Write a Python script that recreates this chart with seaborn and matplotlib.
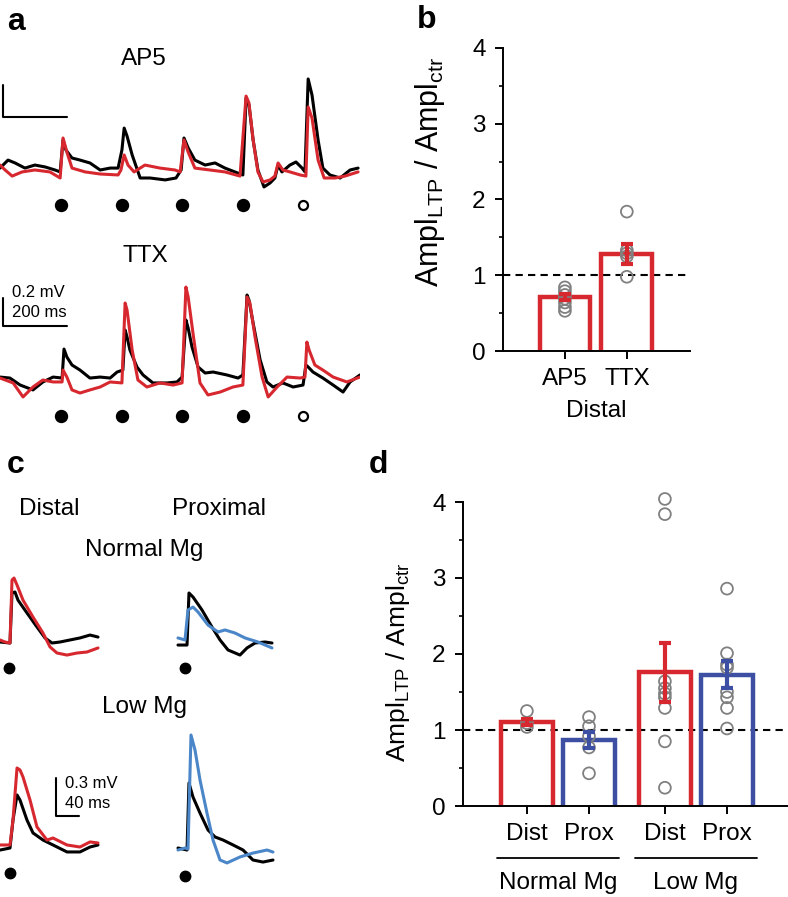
import matplotlib
matplotlib.use("Agg")
import matplotlib.pyplot as plt
import matplotlib.transforms as mtransforms
from matplotlib.ticker import MultipleLocator
import pandas as pd
import seaborn as sns

# -----------------------------
# Data
# -----------------------------
# panel a: traces as (time ms, voltage mV) vertices, baseline = 0
ap5_black = [(0, 0.012), (25, 0.062), (47, 0.044), (78, 0.012), (109, 0.031), (141, 0.019), (172, 0.0),
             (188, -0.012), (197, 0.188), (206, 0.125), (225, 0.075), (250, 0.062), (281, 0.044), (313, 0.0),
             (344, 0.012), (369, 0.012), (381, 0.125), (388, 0.262), (397, 0.212), (413, 0.094), (438, -0.05),
             (469, -0.05), (516, -0.062), (550, -0.05), (566, 0.0), (575, 0.2), (588, 0.138), (609, 0.062),
             (641, 0.031), (672, 0.044), (703, 0.012), (734, -0.012), (759, -0.031), (769, 0.45), (778, 0.406),
             (791, 0.188), (806, 0.0), (825, -0.106), (844, -0.081), (859, -0.05), (869, 0.031), (881, -0.012),
             (906, 0.031), (925, 0.05), (944, 0.012), (953, -0.012), (963, 0.569), (975, 0.469), (994, 0.188),
             (1009, 0.012), (1031, -0.031), (1063, -0.05), (1094, 0.0), (1119, 0.012)]
ap5_red = [(0, 0.031), (16, 0.0), (38, -0.038), (69, -0.012), (109, 0.0), (156, -0.012), (188, -0.05),
           (197, 0.2), (209, 0.112), (225, 0.012), (266, -0.012), (313, -0.025), (369, -0.031), (378, 0.0),
           (388, 0.094), (400, 0.031), (419, -0.012), (453, 0.031), (500, 0.012), (547, 0.0), (563, -0.012),
           (575, 0.188), (588, 0.112), (609, 0.012), (656, 0.0), (703, -0.012), (750, -0.038), (769, 0.462),
           (778, 0.419), (791, 0.188), (806, -0.012), (822, -0.075), (844, -0.062), (859, -0.038), (869, 0.044),
           (884, 0.0), (906, -0.012), (938, -0.031), (956, -0.038), (963, 0.394), (975, 0.325), (994, 0.062),
           (1013, -0.05), (1047, -0.05), (1078, -0.038), (1119, -0.012)]
ttx_black = [(0, 0.021), (31, 0.014), (63, -0.036), (103, -0.071), (134, -0.014), (166, 0.021), (194, 0.014),
             (200, 0.221), (209, 0.164), (225, 0.107), (250, 0.071), (281, 0.014), (313, 0.021), (344, 0.014),
             (366, 0.057), (384, 0.071), (391, 0.357), (397, 0.307), (406, 0.214), (428, 0.093), (447, 0.036),
             (478, -0.021), (522, -0.021), (553, -0.014), (569, 0.021), (581, 0.429), (588, 0.371), (600, 0.236),
             (619, 0.093), (641, 0.05), (666, 0.057), (709, 0.036), (744, 0.014), (759, 0.036), (772, 0.607),
             (778, 0.571), (791, 0.407), (813, 0.143), (834, -0.014), (853, -0.05), (884, -0.021), (916, -0.05),
             (947, -0.036), (956, 0.107), (963, 0.093), (978, 0.057), (1009, 0.014), (1041, -0.036),
             (1072, -0.086), (1094, -0.014), (1125, 0.036)]
ttx_red = [(0, 0.014), (41, -0.021), (72, -0.121), (103, -0.05), (134, 0.0), (166, -0.014), (194, -0.014),
           (197, 0.071), (209, 0.021), (225, -0.071), (250, -0.093), (281, -0.071), (313, -0.05), (344, -0.014),
           (381, -0.021), (391, 0.55), (397, 0.5), (413, 0.214), (431, 0.0), (459, -0.05), (500, -0.021),
           (541, -0.036), (569, -0.021), (581, 0.664), (588, 0.593), (603, 0.336), (625, -0.021), (650, -0.107),
           (688, -0.086), (728, -0.05), (759, -0.036), (772, 0.593), (781, 0.55), (797, 0.307), (819, 0.021),
           (838, -0.121), (866, -0.05), (897, 0.021), (938, 0.014), (953, 0.021), (959, 0.271), (966, 0.214),
           (984, 0.107), (1009, 0.071), (1041, 0.021), (1084, -0.014), (1125, 0.021)]
stim_times = [190, 381, 569, 759, 947]
stim_filled = [True, True, True, True, False]

# panel b
b_conditions = ["AP5", "TTX"]
b_means = [0.71, 1.28]
b_sem = [0.04, 0.13]
ap5_points = [0.84, 0.79, 0.74, 0.69, 0.64, 0.58, 0.53]
ttx_points = [1.84, 1.33, 1.29, 1.25, 0.98]

# panel c: single EPSPs, time relative to stimulus (ms), voltage relative to baseline (mV)
c_dist_normal_black = [(-20.9, 0.0), (-3.5, -0.008), (0, 0.387), (5.2, 0.395), (10.4, 0.331), (26.1, 0.229),
                       (43.5, 0.118), (57.4, 0.032), (69.6, -0.008), (83.5, 0.0), (100.9, 0.016),
                       (118.3, 0.032), (135.7, 0.055), (149.6, 0.039)]
c_dist_normal_red = [(-20.9, 0.016), (-12.2, 0.0), (-3.5, -0.008), (0, 0.489), (3.5, 0.505), (8.7, 0.45),
                     (19.1, 0.331), (36.5, 0.197), (53.9, 0.071), (66.1, -0.039), (78.3, -0.087),
                     (95.7, -0.103), (113.0, -0.087), (130.4, -0.079), (149.6, -0.047)]
c_prox_normal_black = [(-17.4, -0.024), (-1.7, -0.024), (1.7, 0.387), (8.7, 0.355), (24.3, 0.253),
                       (41.7, 0.118), (55.7, 0.016), (69.6, -0.063), (90.4, -0.103), (102.6, -0.047),
                       (116.5, -0.008), (133.9, 0.0), (146.1, -0.008)]
c_prox_normal_blue = [(-17.4, 0.032), (-5.2, 0.016), (0, 0.253), (8.7, 0.276), (17.4, 0.237), (34.8, 0.134),
                      (52.2, 0.079), (64.3, 0.095), (81.7, 0.071), (99.1, 0.032), (121.7, 0.0),
                      (146.1, -0.047)]
c_dist_low_black = [(-22.6, -0.032), (-5.2, -0.016), (0, 0.205), (7.0, 0.403), (12.2, 0.363), (24.3, 0.205),
                    (34.8, 0.103), (52.2, 0.047), (69.6, 0.008), (93.9, -0.047), (116.5, -0.047),
                    (133.9, -0.008), (147.8, 0.008)]
c_dist_low_red = [(-22.6, 0.008), (-5.2, 0.008), (0, 0.205), (7.0, 0.616), (12.2, 0.6), (17.4, 0.545),
                  (29.6, 0.363), (41.7, 0.15), (59.1, 0.047), (69.6, 0.063), (93.9, 0.008), (116.5, -0.008),
                  (133.9, 0.032), (147.8, 0.024)]
c_prox_low_black = [(-17.4, 0.008), (-1.7, -0.008), (1.7, 0.521), (8.7, 0.41), (20.9, 0.284), (34.8, 0.15),
                    (47.0, 0.095), (60.9, 0.071), (78.3, 0.032), (95.7, -0.008), (113.0, -0.087),
                    (130.4, -0.103), (147.8, -0.087)]
c_prox_low_blue = [(-17.4, -0.008), (-5.2, 0.008), (0, 0.0), (5.2, 0.9), (12.2, 0.781), (20.9, 0.544),
                   (33.0, 0.284), (43.5, 0.071), (55.7, -0.087), (67.8, -0.11), (90.4, -0.063),
                   (113.0, -0.032), (137.4, -0.008), (147.8, -0.024)]

# panel d
d_groups = ["Normal Mg", "Normal Mg", "Low Mg", "Low Mg"]
d_sites = ["Dist", "Prox", "Dist", "Prox"]
d_means = [1.11, 0.87, 1.76, 1.73]
d_sem = [0.04, 0.11, 0.39, 0.18]
nm_dist_points = [1.25, 1.09, 1.04]
nm_prox_points = [1.17, 1.05, 0.92, 0.77, 0.43]
lm_dist_points = [4.04, 3.84, 1.64, 1.55, 1.48, 1.43, 1.29, 0.85, 0.24]
lm_prox_points = [2.86, 2.01, 1.86, 1.82, 1.50, 1.43, 1.29, 1.02]

# -----------------------------
# Style
# -----------------------------
sns.set_style("ticks")
plt.rcParams["font.family"] = ["Liberation Sans", "DejaVu Sans"]
plt.rcParams["mathtext.fontset"] = "custom"
plt.rcParams["mathtext.rm"] = "Liberation Sans"
plt.rcParams.update({
    "text.color": "black",
    "axes.labelcolor": "black",
    "xtick.color": "black",
    "ytick.color": "black",
    "axes.edgecolor": "black",
})

RED = "#d7282f"
BAR_BLUE = "#3d4fa3"
TRACE_BLUE = "#4a86c8"
GREY = "#808080"
FS = 17.5
YLABEL = r"Ampl$_{\mathregular{LTP}}$ / Ampl$_{\mathregular{ctr}}$"

W, H = 788, 897
fig = plt.figure(figsize=(W / 100, H / 100), dpi=100)


def px_box(x0, y0, x1, y1):
    return [x0 / W, 1 - y1 / H, (x1 - x0) / W, (y1 - y0) / H]


def ftext(x, y, s, **kw):
    fig.text(x / W, 1 - y / H, s, **kw)


def trace_ax(box, t_per_px, v_per_px, t0_px, base_px):
    x0, y0, x1, y1 = box
    ax = fig.add_axes(px_box(x0, y0, x1, y1))
    ax.set_xlim((x0 - t0_px) * t_per_px, (x1 - t0_px) * t_per_px)
    ax.set_ylim((base_px - y1) * v_per_px, (base_px - y0) * v_per_px)
    ax.axis("off")
    return ax


def draw_trace(ax, pts, color, lw=2.2):
    t, v = zip(*pts)
    sns.lineplot(x=list(t), y=list(v), sort=False, estimator=None, color=color, linewidth=lw, ax=ax)


# -----------------------------
# Panel a
# -----------------------------
ax_ap5 = trace_ax((0, 60, 360, 215), 3.125, 0.00625, 0, 170)
draw_trace(ax_ap5, ap5_black, "black")
draw_trace(ax_ap5, ap5_red, RED)
ax_ap5.plot([9.4, 9.4, 209.4], [0.531, 0.331, 0.331], color="black", lw=1.5, clip_on=False)

ax_ttx = trace_ax((0, 250, 360, 430), 3.125, 1 / 140, 0, 380)
draw_trace(ax_ttx, ttx_black, "black")
draw_trace(ax_ttx, ttx_red, RED)
ax_ttx.plot([9.4, 9.4, 209.4], [0.586, 0.386, 0.386], color="black", lw=1.5, clip_on=False)

for ax, dot_v in [(ax_ap5, -0.219), (ax_ttx, -0.257)]:
    for t, filled in zip(stim_times, stim_filled):
        ax.plot(t, dot_v, "o", ms=8 if filled else 6.5, mfc="black" if filled else "white",
                mec="black", mew=1.6, clip_on=False)

ftext(144, 65, "AP5", ha="center", va="baseline", fontsize=FS)
ftext(145, 262, "TTX", ha="center", va="baseline", fontsize=FS)
ftext(12, 297, "0.2 mV", ha="left", va="baseline", fontsize=12)
ftext(12, 317, "200 ms", ha="left", va="baseline", fontsize=12)

# -----------------------------
# Panel c
# -----------------------------
T_C = 40 / 23
V_C = 0.3 / 38
c_sets = [
    (12, 642, c_dist_normal_black, c_dist_normal_red, RED, -0.205),
    (188, 642, c_prox_normal_black, c_prox_normal_blue, TRACE_BLUE, -0.205),
    (13, 846, c_dist_low_black, c_dist_low_red, RED, -0.213),
    (188, 849, c_prox_low_black, c_prox_low_blue, TRACE_BLUE, -0.213),
]
c_axes = []
for sx, by, blk, col, colr, dot_v in c_sets:
    ax = trace_ax((sx - 14, by - 130, sx + 95, by + 35), T_C, V_C, sx, by)
    draw_trace(ax, blk, "black")
    draw_trace(ax, col, colr)
    ax.plot(-5, dot_v, "o", ms=7.5, color="black", clip_on=False)
    c_axes.append(ax)
c_axes[2].plot([74.8, 74.8, 114.8], [0.537, 0.237, 0.237], color="black", lw=1.5, clip_on=False)

ftext(49, 515, "Distal", ha="center", va="baseline", fontsize=FS)
ftext(219, 515, "Proximal", ha="center", va="baseline", fontsize=FS)
ftext(144, 556, "Normal Mg", ha="center", va="baseline", fontsize=FS)
ftext(144, 713, "Low Mg", ha="center", va="baseline", fontsize=FS)
ftext(65, 788, "0.3 mV", ha="left", va="baseline", fontsize=12)
ftext(65, 808, "40 ms", ha="left", va="baseline", fontsize=12)


# -----------------------------
# Bar panels
# -----------------------------
def style_bar_axis(ax):
    sns.despine(ax=ax)
    ax.set_ylim(0, 4)
    ax.set_yticks([0, 1, 2, 3, 4])
    ax.yaxis.set_minor_locator(MultipleLocator(0.5))
    ax.tick_params(axis="both", which="major", direction="out", length=5.5, width=1.4,
                   labelsize=FS, pad=7, color="black", labelcolor="black")
    ax.tick_params(axis="y", which="minor", direction="out", length=3, width=1.2)
    for s in ["left", "bottom"]:
        ax.spines[s].set_linewidth(1.4)
        ax.spines[s].set_color("black")
    ax.axhline(1, color="black", lw=1.5, ls=(0, (3.5, 2.5)), zorder=0.5)


def open_bars(ax):
    # extend the bar outline under the x axis so its bottom edge gets clipped away
    for p in ax.patches:
        h = p.get_height()
        p.set_y(-0.08)
        p.set_height(h + 0.08)


def hollow(collections):
    for c in collections:
        c.set_facecolor("none")


# panel b
ax_b = fig.add_axes(px_box(503, 48, 690, 351))
df_b = pd.DataFrame({"cond": b_conditions, "ratio": b_means})
sns.barplot(data=df_b, x="cond", y="ratio", order=b_conditions, color=RED, fill=False, width=0.82,
            linewidth=3.2, errorbar=None, ax=ax_b)
open_bars(ax_b)
pts_b = pd.DataFrame({"cond": ["AP5"] * len(ap5_points) + ["TTX"] * len(ttx_points),
                      "ratio": ap5_points + ttx_points})
n0 = len(ax_b.collections)
sns.stripplot(data=pts_b, x="cond", y="ratio", order=b_conditions, jitter=False, size=8.5, color=GREY,
              edgecolor=GREY, linewidth=1.3, clip_on=False, zorder=3, ax=ax_b)
hollow(ax_b.collections[n0:])
ax_b.errorbar(range(len(b_conditions)), b_means, yerr=b_sem, fmt="none", ecolor=RED, elinewidth=3,
              capsize=4, capthick=3, zorder=4, clip_on=False)
style_bar_axis(ax_b)
ax_b.set_xlim(-1.0, 2.02)
ax_b.set_xticks(range(len(b_conditions)))
ax_b.set_xticklabels(b_conditions)
ax_b.set_xlabel("Distal", fontsize=FS, labelpad=7)
ax_b.set_ylabel(YLABEL, fontsize=22)
ax_b.yaxis.set_label_coords(-0.30, 0.59)

# panel d
ax_d = fig.add_axes(px_box(463, 502, 788, 806))
group_order = ["Normal Mg", "Low Mg"]
site_order = ["Dist", "Prox"]
df_d = pd.DataFrame({"group": d_groups, "site": d_sites, "ratio": d_means})
sns.barplot(data=df_d, x="group", y="ratio", hue="site", order=group_order, hue_order=site_order,
            palette=[RED, BAR_BLUE], fill=False, width=0.9, gap=0.16, linewidth=3.2, errorbar=None,
            legend=False, ax=ax_d)
bars = sorted(ax_d.patches, key=lambda p: p.get_x())
centers = [p.get_x() + p.get_width() / 2 for p in bars]
open_bars(ax_d)

pts_d = pd.DataFrame({
    "group": ["Normal Mg"] * (len(nm_dist_points) + len(nm_prox_points))
             + ["Low Mg"] * (len(lm_dist_points) + len(lm_prox_points)),
    "site": ["Dist"] * len(nm_dist_points) + ["Prox"] * len(nm_prox_points)
            + ["Dist"] * len(lm_dist_points) + ["Prox"] * len(lm_prox_points),
    "ratio": nm_dist_points + nm_prox_points + lm_dist_points + lm_prox_points,
})
n0 = len(ax_d.collections)
sns.stripplot(data=pts_d, x="group", y="ratio", hue="site", order=group_order, hue_order=site_order,
              palette=[GREY, GREY], dodge=True, jitter=False, size=8.5, edgecolor=GREY, linewidth=1.3,
              legend=False, clip_on=False, zorder=3, ax=ax_d)
for coll in ax_d.collections[n0:]:
    offs = coll.get_offsets()
    if len(offs):
        offs[:, 0] = [min(centers, key=lambda c: abs(c - x)) for x in offs[:, 0]]
        coll.set_offsets(offs)
hollow(ax_d.collections[n0:])
bar_colors = [RED if s == "Dist" else BAR_BLUE for s in d_sites]
for cx, m, e, col in zip(centers, d_means, d_sem, bar_colors):
    ax_d.errorbar(cx, m, yerr=e, fmt="none", ecolor=col, elinewidth=3, capsize=4, capthick=3,
                  zorder=4, clip_on=False)
style_bar_axis(ax_d)
ax_d.set_xlim(-0.688, 1.667)
ax_d.set_xticks(centers)
ax_d.set_xticklabels(d_sites)
ax_d.set_xlabel("")
ax_d.set_ylabel(YLABEL, fontsize=19)
ax_d.yaxis.set_label_coords(-0.157, 0.474)

trans = mtransforms.blended_transform_factory(ax_d.transData, ax_d.transAxes)
for gi, g in enumerate(group_order):
    ax_d.plot([gi - 0.445, gi + 0.445], [-0.171, -0.171], transform=trans, clip_on=False,
              color="black", lw=1.3)
    ax_d.text(gi, -0.253, g, transform=trans, ha="center", va="center", fontsize=FS)

# panel letters
for letter, x, y in [("a", 7, 30), ("b", 417, 28), ("c", 7, 473), ("d", 369, 473)]:
    ftext(x, y, letter, ha="left", va="baseline", fontsize=23, fontweight="bold")

fig.savefig("out.png", dpi=100)
